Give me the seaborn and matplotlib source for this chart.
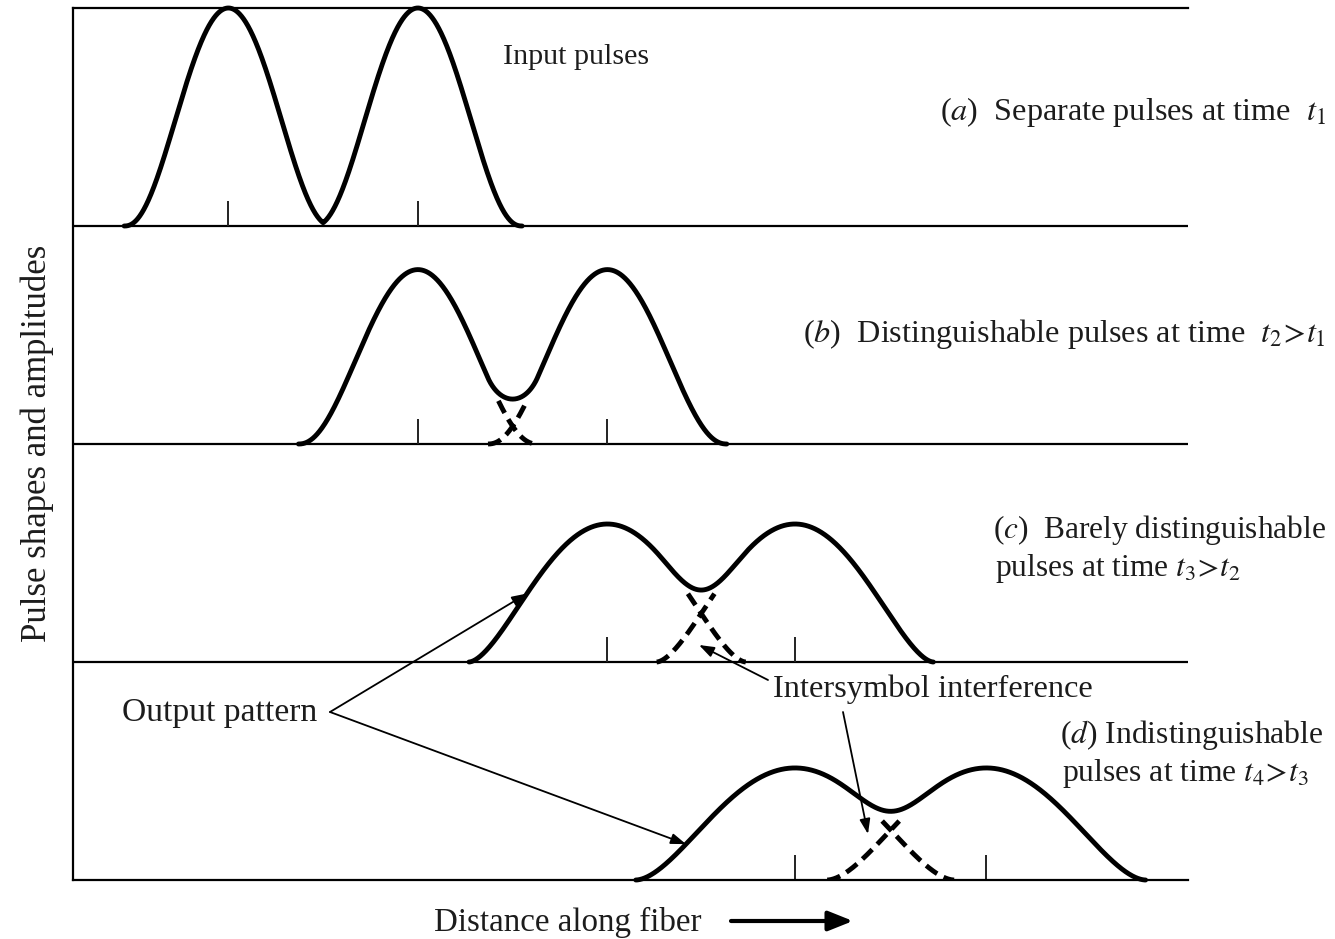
import numpy as np
import pandas as pd
import matplotlib
matplotlib.use("Agg")
import matplotlib.pyplot as plt
import seaborn as sns

# ---------------- data ----------------
panel_labels = ["a", "b", "c", "d"]
# pulse centres along the fiber, in bit periods
first_pulse_center = [0.82, 1.82, 2.82, 3.81]
second_pulse_center = [1.82, 2.82, 3.81, 4.82]
# pulse peak amplitude (in panel heights)
pulse_amplitude = [1.00, 0.80, 0.633, 0.514]
# pulse half width at the foot (bit periods) - pulses spread as they travel
pulse_half_width = [0.55, 0.63, 0.73, 0.84]
# pulse shape exponent (pulses get rounder / fuller as they spread)
pulse_shape_exponent = [2.4, 2.3, 1.7, 1.8]
# height of the output pattern at the dip between the pulses (panel heights)
output_dip_height = [np.nan, 0.206, 0.33, 0.315]
# how far (bit periods) the dashed pulse tails reach past their crossing
dashed_overshoot = [0.0, 0.075, 0.07, 0.045]

panel_captions = [
    [r"($a$)  Separate pulses at time  $t_1$"],
    [r"($b$)  Distinguishable pulses at time  $t_2\!>\!t_1$"],
    [r"($c$)  Barely distinguishable", r"pulses at time $t_3\!>\!t_2$"],
    [r"($d$) Indistinguishable", r"pulses at time $t_4\!>\!t_3$"],
]

# ---------------- style ----------------
sns.set_style("white")
plt.rcParams["font.family"] = ["Liberation Serif", "DejaVu Serif"]
plt.rcParams["mathtext.fontset"] = "stix"
TXT = "#1c1c1c"

W, H = 1335, 939
fig = plt.figure(figsize=(W / 100, H / 100), dpi=100)
L, R, T, B = 73, 1188, 8, 880
ax = fig.add_axes([L / W, 1 - B / H, (R - L) / W, (B - T) / H])
PX_PER_T = 189.5
xmax = (R - L) / PX_PER_T
ax.set_xlim(0, xmax)
ax.set_ylim(0, 4)
ax.set_xticks([])
ax.set_yticks([])
for s in ["left", "bottom", "top"]:
    ax.spines[s].set_linewidth(1.6)
    ax.spines[s].set_color("black")
ax.spines["right"].set_visible(False)


def pulse(x, c, a, w, n):
    u = (x - c) / w
    return np.where(np.abs(u) < 1, a * np.clip(1 - u ** 2, 0, None) ** n, 0.0)


def fx(px):
    return px / W


def fy(py):
    return 1 - py / H


def dx(px):
    return (px - L) / PX_PER_T


LW = 3.5
solid_curves = {}
dash_style = (0, (2.8, 1.5))
for i, lab in enumerate(panel_labels):
    base = 3 - i
    c1, c2 = first_pulse_center[i], second_pulse_center[i]
    a, w, n = pulse_amplitude[i], pulse_half_width[i], pulse_shape_exponent[i]
    dip = output_dip_height[i]
    if base > 0:
        ax.axhline(base, color="black", lw=1.6, zorder=1)
    xs = np.linspace(c1 - w, c2 + w, 1200)
    p1 = pulse(xs, c1, a, w, n)
    p2 = pulse(xs, c2, a, w, n)
    mid = (c1 + c2) / 2
    if np.isnan(dip):
        out = np.maximum(p1, p2)
    else:
        cross = float(pulse(np.array([mid]), c1, a, w, n)[0])
        k = np.log(2) / np.log(dip / cross)
        out = (p1 ** k + p2 ** k) ** (1 / k)
    df = pd.DataFrame({"x": xs, "y": base + out})
    solid_curves[lab] = df
    sns.lineplot(data=df, x="x", y="y", ax=ax, color="black", lw=LW,
                 estimator=None, sort=False, errorbar=None, clip_on=False,
                 zorder=3)
    # individual pulse tails around the crossing (dashed)
    if not np.isnan(dip):
        d = dashed_overshoot[i]
        xo1 = np.linspace(mid - d, c1 + w, 200)
        xo2 = np.linspace(c2 - w, mid + d, 200)
        for xo, c in ((xo1, c1), (xo2, c2)):
            dfo = pd.DataFrame({"x": xo, "y": base + pulse(xo, c, a, w, n)})
            sns.lineplot(data=dfo, x="x", y="y", ax=ax, color="black",
                         lw=LW, linestyle=dash_style, estimator=None,
                         sort=False, errorbar=None, zorder=2)
    ax.vlines([c1, c2], base, base + 0.115, color="#222222", lw=1.4, zorder=2)


def on_curve(lab, px):
    df = solid_curves[lab]
    xd = dx(px)
    return xd, float(np.interp(xd, df["x"], df["y"]))


# ---------------- texts ----------------
fig.text(fx(503), fy(64), "Input pulses", fontsize=21.6, color=TXT,
         ha="left", va="baseline")
fig.text(fx(1326), fy(120), panel_captions[0][0], fontsize=23.2, color=TXT,
         ha="right", va="baseline")
fig.text(fx(1326), fy(342), panel_captions[1][0], fontsize=23.2, color=TXT,
         ha="right", va="baseline")
fig.text(fx(993), fy(538), panel_captions[2][0], fontsize=22.6, color=TXT,
         ha="left", va="baseline")
fig.text(fx(995), fy(576), panel_captions[2][1], fontsize=22.6, color=TXT,
         ha="left", va="baseline")
fig.text(fx(1060), fy(743), panel_captions[3][0], fontsize=22.8, color=TXT,
         ha="left", va="baseline")
fig.text(fx(1062), fy(781), panel_captions[3][1], fontsize=22.8, color=TXT,
         ha="left", va="baseline")
fig.text(fx(122), fy(721), "Output pattern", fontsize=24.2, color=TXT,
         ha="left", va="baseline")
fig.text(fx(773), fy(697), "Intersymbol interference", fontsize=23.4,
         color=TXT, ha="left", va="baseline")
fig.text(fx(37), fy(443), "Pulse shapes and amplitudes", fontsize=25,
         color=TXT, ha="center", va="center", rotation=90)
fig.text(fx(434), fy(931), "Distance along fiber", fontsize=23.8, color=TXT,
         ha="left", va="baseline")

# ---------------- pointer lines ----------------
thin = dict(arrowstyle="-|>,head_length=0.45,head_width=0.16",
            mutation_scale=20, lw=1.3, color="black",
            shrinkA=0, shrinkB=0)
vertex = (fx(330), fy(712))
ax.annotate("", xy=on_curve("c", 527), xycoords="data", xytext=vertex,
            textcoords="figure fraction", arrowprops=thin,
            annotation_clip=False)
ax.annotate("", xy=on_curve("d", 686), xycoords="data", xytext=vertex,
            textcoords="figure fraction", arrowprops=thin,
            annotation_clip=False)
ax.annotate("", xy=(fx(699), fy(645)), xycoords="figure fraction",
            xytext=(fx(768), fy(680)), textcoords="figure fraction",
            arrowprops=thin, annotation_clip=False)
ax.annotate("", xy=(fx(868), fy(834)), xycoords="figure fraction",
            xytext=(fx(843), fy(712)), textcoords="figure fraction",
            arrowprops=thin, annotation_clip=False)

# arrow next to "Distance along fiber"
ax.annotate("", xy=(fx(853), fy(921)), xycoords="figure fraction",
            xytext=(fx(731), fy(921)), textcoords="figure fraction",
            arrowprops=dict(arrowstyle="-|>,head_length=0.75,head_width=0.3",
                            mutation_scale=20, lw=3.0, color="black",
                            shrinkA=0, shrinkB=0),
            annotation_clip=False)

fig.savefig("out.png", dpi=100)
